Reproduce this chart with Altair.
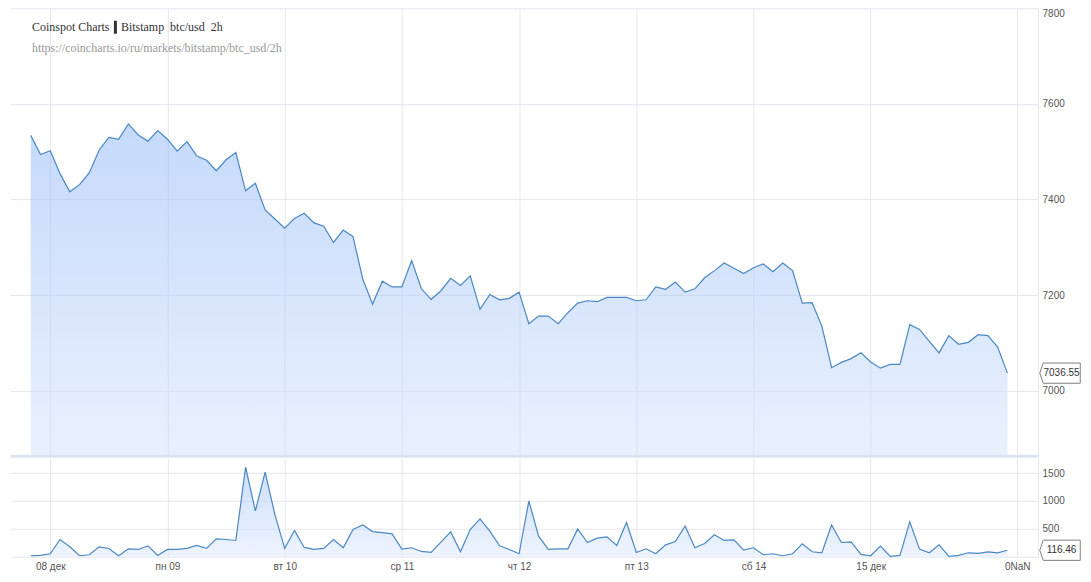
import json
import altair as alt
import pandas as pd

# ---------------- data ----------------
title_main = "Coinspot Charts"
title_market = "Bitstamp\u00a0\u00a0btc/usd\u00a0\u00a02h"
subtitle_url = "https://coincharts.io/ru/markets/bitstamp/btc_usd/2h"

# 2h candles: hours relative to 08 Dec 00:00 (first candle 07 Dec 20:00)
hours = list(range(-4, 198, 2))

price = [
    7534, 7494, 7502, 7454, 7416, 7431, 7456, 7503, 7530, 7526,
    7558, 7535, 7522, 7544, 7526, 7501, 7521, 7491, 7482, 7460,
    7483, 7498, 7418, 7434, 7378, 7359, 7340, 7360, 7371, 7351,
    7344, 7310, 7336, 7322, 7233, 7181, 7229, 7217, 7217, 7272,
    7213, 7191, 7209, 7235, 7220, 7240, 7170, 7201, 7190, 7193,
    7206, 7140, 7156, 7156, 7140, 7163, 7183, 7188, 7186, 7195,
    7195, 7195, 7188, 7190, 7217, 7212, 7227, 7206, 7213, 7236,
    7251, 7267, 7256, 7245, 7257, 7265, 7249, 7267, 7251, 7183,
    7184, 7135, 7048, 7059, 7067, 7079, 7060, 7047, 7055, 7055,
    7138, 7128, 7103, 7079, 7115, 7097, 7101, 7117, 7115, 7091,
    7036.55,
]

volume = [
    18, 24, 54, 309, 178, 18, 36, 178, 149, 18,
    143, 131, 196, 24, 131, 131, 149, 202, 149, 321,
    309, 292, 1607, 821, 1517, 756, 149, 470, 167, 131,
    149, 309, 161, 488, 571, 452, 434, 411, 137, 161,
    95, 77, 262, 446, 89, 488, 678, 458, 196, 131,
    54, 1000, 369, 131, 143, 143, 500, 256, 333, 357,
    202, 613, 77, 143, 54, 214, 274, 553, 161, 238,
    393, 292, 303, 119, 161, 36, 54, 18, 54, 232,
    89, 71, 571, 256, 268, 42, 18, 190, 6, 24,
    625, 137, 71, 214, 6, 24, 71, 60, 89, 71,
    116.46,
]

tick_hours = [0, 24, 48, 72, 96, 120, 144, 168, 198]
tick_labels = ["08 дек", "пн 09", "вт 10", "ср 11", "чт 12", "пт 13", "сб 14", "15 дек", "0NaN"]
price_ticks = [7000, 7200, 7400, 7600, 7800]
volume_ticks = [500, 1000, 1500]
last_price_label = "7036.55"
last_volume_label = "116.46"

# ---------------- styling ----------------
GRID = "#e6e7ee"
SEP = "#dde3ee"
LINE = "#4a87c5"
LABEL = "#555555"
AXFONT = "Liberation Sans"
W = 1029
H_PRICE = 448
H_VOL = 99
X_DOMAIN = [-8.245, 202.27]
PRICE_FLOOR = 6863.5

df = pd.DataFrame({"h": hours, "price": price, "volume": volume})

label_expr = "{}[indexof({}, datum.value)]".format(
    json.dumps(tick_labels, ensure_ascii=False), json.dumps(tick_hours)
)

x_scale = alt.Scale(domain=X_DOMAIN, nice=False, zero=False)

x_price = alt.X(
    "h:Q", scale=x_scale,
    axis=alt.Axis(values=tick_hours, labels=False, ticks=False, tickSize=0, grid=True,
                  gridColor=GRID, domain=True, domainColor=SEP, domainWidth=3, title=None),
)
y_price = alt.Y(
    "price:Q", scale=alt.Scale(domain=[PRICE_FLOOR, 7800], nice=False, zero=False),
    axis=alt.Axis(orient="right", values=price_ticks, format="d", grid=True, gridColor=GRID,
                  ticks=False, tickSize=0, domain=True, domainColor=GRID, labelPadding=4,
                  labelFlush=True, labelFont=AXFONT, labelFontSize=10, labelColor=LABEL,
                  title=None),
)

price_grad = alt.Gradient(
    gradient="linear",
    stops=[alt.GradientStop(color="#8bb4f7", offset=0),
           alt.GradientStop(color="#d3e3fb", offset=1)],
    x1=0, x2=0, y1=0, y2=1,
)
vol_grad = alt.Gradient(
    gradient="linear",
    stops=[alt.GradientStop(color="#9bbff7", offset=0),
           alt.GradientStop(color="#dde9fd", offset=1)],
    x1=0, x2=0, y1=0, y2=1,
)

base = alt.Chart(df)

p_area = base.mark_area(color=price_grad, fillOpacity=0.5).encode(
    x=x_price, y=y_price, y2=alt.datum(PRICE_FLOOR)
)
p_line = base.mark_line(color=LINE, strokeWidth=1.2).encode(x=x_price, y=y_price)

t_main = alt.Chart(pd.DataFrame({"t": [title_main]})).mark_text(
    align="left", baseline="alphabetic", font="Liberation Serif", fontSize=12, color="#333333"
).encode(x=alt.value(22), y=alt.value(22.5), text="t:N")
t_bar = alt.Chart(pd.DataFrame({"t": [0]})).mark_rule(color="#333333", strokeWidth=3).encode(
    x=alt.value(105.5), y=alt.value(12.5), y2=alt.value(25.5)
)
t_market = alt.Chart(pd.DataFrame({"t": [title_market]})).mark_text(
    align="left", baseline="alphabetic", font="Liberation Serif", fontSize=12, color="#333333"
).encode(x=alt.value(111), y=alt.value(22.5), text="t:N")
t_sub = alt.Chart(pd.DataFrame({"t": [subtitle_url]})).mark_text(
    align="left", baseline="alphabetic", font="Liberation Serif", fontSize=12, color="#999999"
).encode(x=alt.value(22), y=alt.value(43.5), text="t:N")

# value tag: pointed left edge, kept narrow so the page does not overflow
BOX_PATH = "M -1 0 L -0.83 -0.5 L 1 -0.5 L 1 0.5 L -0.83 0.5 Z"
BOX_SIZE = 1640
BOX_X = 1051.0
TEXT_X = 1052.5

last_p = pd.DataFrame({"price": [price[-1]], "label": [last_price_label]})
p_box = alt.Chart(last_p).mark_point(
    shape=BOX_PATH, size=BOX_SIZE, filled=True, fill="white", stroke="#808080",
    strokeWidth=1, opacity=1
).encode(x=alt.value(BOX_X), y=y_price)
p_box_t = alt.Chart(last_p).mark_text(
    align="center", baseline="middle", font=AXFONT, fontSize=10, color="#333333"
).encode(x=alt.value(TEXT_X), y=y_price, text="label:N")

price_chart = alt.layer(p_area, p_line, t_main, t_bar, t_market, t_sub, p_box, p_box_t).properties(
    width=W, height=H_PRICE
)

x_vol = alt.X(
    "h:Q", scale=x_scale,
    axis=alt.Axis(values=tick_hours, labelExpr=label_expr, ticks=False, tickSize=0, grid=True,
                  gridColor=GRID, domain=True, domainColor=GRID, labelPadding=5,
                  labelFlush=False, labelOverlap=False, labelFont=AXFONT, labelFontSize=10,
                  labelColor=LABEL, labelBaseline="top", title=None),
)
y_vol = alt.Y(
    "volume:Q", scale=alt.Scale(domain=[0, 1774], nice=False),
    axis=alt.Axis(orient="right", values=volume_ticks, format="d", grid=True, gridColor=GRID,
                  ticks=False, tickSize=0, domain=True, domainColor=GRID, labelPadding=4,
                  labelFont=AXFONT, labelFontSize=10, labelColor=LABEL, title=None),
)

v_area = base.mark_area(color=vol_grad, fillOpacity=0.5).encode(x=x_vol, y=y_vol)
v_line = base.mark_line(color=LINE, strokeWidth=1.2).encode(x=x_vol, y=y_vol)

last_v = pd.DataFrame({"volume": [volume[-1]], "label": [last_volume_label]})
v_box = alt.Chart(last_v).mark_point(
    shape=BOX_PATH, size=BOX_SIZE, filled=True, fill="white", stroke="#808080",
    strokeWidth=1, opacity=1
).encode(x=alt.value(BOX_X), y=y_vol)
v_box_t = alt.Chart(last_v).mark_text(
    align="center", baseline="middle", font=AXFONT, fontSize=10, color="#333333"
).encode(x=alt.value(TEXT_X), y=y_vol, text="label:N")

volume_chart = alt.layer(v_area, v_line, v_box, v_box_t).properties(width=W, height=H_VOL)

chart = (
    alt.vconcat(price_chart, volume_chart, spacing=2, bounds="flush")
    .properties(padding={"left": 2, "top": 0, "right": 0, "bottom": 0}, background="white")
    .configure_view(strokeWidth=0)
)

chart.save("out.html", embed_options={"renderer": "svg", "actions": False})
